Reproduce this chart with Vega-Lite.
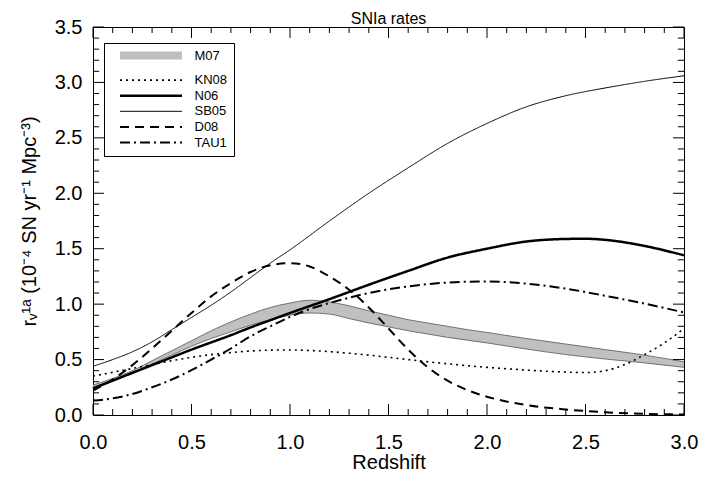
{
 "$schema": "https://vega.github.io/schema/vega-lite/v6.json",
 "width": 591, "height": 388,
 "autosize": {"type": "none"},
 "padding": {"left": 93, "top": 27, "right": 36, "bottom": 62},
 "background": "white",
 "title": {"text": "SNIa rates", "fontSize": 16, "font": "Liberation Sans", "fontWeight": "normal", "color": "black", "offset": -10, "frame": "group", "anchor": "middle"},
 "datasets": {
  "m07": [
   {"z": 0.0, "lo": 0.25, "hi": 0.27}, {"z": 0.1, "lo": 0.31, "hi": 0.33}, {"z": 0.2, "lo": 0.38, "hi": 0.40},
   {"z": 0.3, "lo": 0.46, "hi": 0.49}, {"z": 0.4, "lo": 0.54, "hi": 0.58}, {"z": 0.5, "lo": 0.62, "hi": 0.67},
   {"z": 0.6, "lo": 0.69, "hi": 0.76}, {"z": 0.7, "lo": 0.75, "hi": 0.84}, {"z": 0.8, "lo": 0.81, "hi": 0.91},
   {"z": 0.9, "lo": 0.86, "hi": 0.97}, {"z": 1.0, "lo": 0.90, "hi": 1.01}, {"z": 1.1, "lo": 0.92, "hi": 1.035},
   {"z": 1.2, "lo": 0.91, "hi": 1.02}, {"z": 1.3, "lo": 0.87, "hi": 0.985}, {"z": 1.4, "lo": 0.83, "hi": 0.94},
   {"z": 1.5, "lo": 0.795, "hi": 0.90}, {"z": 1.6, "lo": 0.76, "hi": 0.86}, {"z": 1.7, "lo": 0.73, "hi": 0.83},
   {"z": 1.8, "lo": 0.70, "hi": 0.80}, {"z": 1.9, "lo": 0.675, "hi": 0.77}, {"z": 2.0, "lo": 0.65, "hi": 0.745},
   {"z": 2.2, "lo": 0.595, "hi": 0.69}, {"z": 2.4, "lo": 0.545, "hi": 0.64}, {"z": 2.6, "lo": 0.505, "hi": 0.59},
   {"z": 2.8, "lo": 0.47, "hi": 0.54}, {"z": 3.0, "lo": 0.43, "hi": 0.48}
  ],
  "xticks": [
   {"v": 0.0, "kind": "major"}, {"v": 0.1, "kind": "minor"}, {"v": 0.2, "kind": "minor"}, {"v": 0.3, "kind": "minor"}, {"v": 0.4, "kind": "minor"},
   {"v": 0.5, "kind": "major"}, {"v": 0.6, "kind": "minor"}, {"v": 0.7, "kind": "minor"}, {"v": 0.8, "kind": "minor"}, {"v": 0.9, "kind": "minor"},
   {"v": 1.0, "kind": "major"}, {"v": 1.1, "kind": "minor"}, {"v": 1.2, "kind": "minor"}, {"v": 1.3, "kind": "minor"}, {"v": 1.4, "kind": "minor"},
   {"v": 1.5, "kind": "major"}, {"v": 1.6, "kind": "minor"}, {"v": 1.7, "kind": "minor"}, {"v": 1.8, "kind": "minor"}, {"v": 1.9, "kind": "minor"},
   {"v": 2.0, "kind": "major"}, {"v": 2.1, "kind": "minor"}, {"v": 2.2, "kind": "minor"}, {"v": 2.3, "kind": "minor"}, {"v": 2.4, "kind": "minor"},
   {"v": 2.5, "kind": "major"}, {"v": 2.6, "kind": "minor"}, {"v": 2.7, "kind": "minor"}, {"v": 2.8, "kind": "minor"}, {"v": 2.9, "kind": "minor"},
   {"v": 3.0, "kind": "major"}
  ],
  "yticks": [
   {"v": 0.0, "kind": "major"}, {"v": 0.1, "kind": "minor"}, {"v": 0.2, "kind": "minor"}, {"v": 0.3, "kind": "minor"}, {"v": 0.4, "kind": "minor"},
   {"v": 0.5, "kind": "major"}, {"v": 0.6, "kind": "minor"}, {"v": 0.7, "kind": "minor"}, {"v": 0.8, "kind": "minor"}, {"v": 0.9, "kind": "minor"},
   {"v": 1.0, "kind": "major"}, {"v": 1.1, "kind": "minor"}, {"v": 1.2, "kind": "minor"}, {"v": 1.3, "kind": "minor"}, {"v": 1.4, "kind": "minor"},
   {"v": 1.5, "kind": "major"}, {"v": 1.6, "kind": "minor"}, {"v": 1.7, "kind": "minor"}, {"v": 1.8, "kind": "minor"}, {"v": 1.9, "kind": "minor"},
   {"v": 2.0, "kind": "major"}, {"v": 2.1, "kind": "minor"}, {"v": 2.2, "kind": "minor"}, {"v": 2.3, "kind": "minor"}, {"v": 2.4, "kind": "minor"},
   {"v": 2.5, "kind": "major"}, {"v": 2.6, "kind": "minor"}, {"v": 2.7, "kind": "minor"}, {"v": 2.8, "kind": "minor"}, {"v": 2.9, "kind": "minor"},
   {"v": 3.0, "kind": "major"}, {"v": 3.1, "kind": "minor"}, {"v": 3.2, "kind": "minor"}, {"v": 3.3, "kind": "minor"}, {"v": 3.4, "kind": "minor"},
   {"v": 3.5, "kind": "major"}
  ],
  "lines": [
   {"model": "KN08", "z": 0.0, "r": 0.35}, {"model": "KN08", "z": 0.1, "r": 0.385}, {"model": "KN08", "z": 0.2, "r": 0.42},
   {"model": "KN08", "z": 0.3, "r": 0.455}, {"model": "KN08", "z": 0.4, "r": 0.49}, {"model": "KN08", "z": 0.5, "r": 0.52},
   {"model": "KN08", "z": 0.6, "r": 0.545}, {"model": "KN08", "z": 0.7, "r": 0.563}, {"model": "KN08", "z": 0.8, "r": 0.577},
   {"model": "KN08", "z": 0.9, "r": 0.585}, {"model": "KN08", "z": 1.0, "r": 0.587}, {"model": "KN08", "z": 1.1, "r": 0.582},
   {"model": "KN08", "z": 1.2, "r": 0.572}, {"model": "KN08", "z": 1.3, "r": 0.557}, {"model": "KN08", "z": 1.4, "r": 0.54},
   {"model": "KN08", "z": 1.5, "r": 0.52}, {"model": "KN08", "z": 1.6, "r": 0.50}, {"model": "KN08", "z": 1.7, "r": 0.48},
   {"model": "KN08", "z": 1.8, "r": 0.462}, {"model": "KN08", "z": 1.9, "r": 0.445}, {"model": "KN08", "z": 2.0, "r": 0.43},
   {"model": "KN08", "z": 2.1, "r": 0.417}, {"model": "KN08", "z": 2.2, "r": 0.405}, {"model": "KN08", "z": 2.3, "r": 0.395},
   {"model": "KN08", "z": 2.4, "r": 0.387}, {"model": "KN08", "z": 2.5, "r": 0.383}, {"model": "KN08", "z": 2.6, "r": 0.40},
   {"model": "KN08", "z": 2.7, "r": 0.455}, {"model": "KN08", "z": 2.8, "r": 0.545}, {"model": "KN08", "z": 2.9, "r": 0.65},
   {"model": "KN08", "z": 3.0, "r": 0.78},
   {"model": "N06", "z": 0.0, "r": 0.24}, {"model": "N06", "z": 0.1, "r": 0.31}, {"model": "N06", "z": 0.2, "r": 0.38},
   {"model": "N06", "z": 0.3, "r": 0.45}, {"model": "N06", "z": 0.4, "r": 0.52}, {"model": "N06", "z": 0.5, "r": 0.59},
   {"model": "N06", "z": 0.6, "r": 0.655}, {"model": "N06", "z": 0.7, "r": 0.72}, {"model": "N06", "z": 0.8, "r": 0.79},
   {"model": "N06", "z": 0.9, "r": 0.855}, {"model": "N06", "z": 1.0, "r": 0.92}, {"model": "N06", "z": 1.2, "r": 1.045},
   {"model": "N06", "z": 1.4, "r": 1.175}, {"model": "N06", "z": 1.6, "r": 1.30}, {"model": "N06", "z": 1.8, "r": 1.42},
   {"model": "N06", "z": 2.0, "r": 1.50}, {"model": "N06", "z": 2.2, "r": 1.565}, {"model": "N06", "z": 2.4, "r": 1.588},
   {"model": "N06", "z": 2.5, "r": 1.59}, {"model": "N06", "z": 2.6, "r": 1.58}, {"model": "N06", "z": 2.8, "r": 1.525},
   {"model": "N06", "z": 3.0, "r": 1.44},
   {"model": "SB05", "z": 0.0, "r": 0.44}, {"model": "SB05", "z": 0.1, "r": 0.50}, {"model": "SB05", "z": 0.2, "r": 0.57},
   {"model": "SB05", "z": 0.3, "r": 0.66}, {"model": "SB05", "z": 0.4, "r": 0.77}, {"model": "SB05", "z": 0.5, "r": 0.88},
   {"model": "SB05", "z": 0.6, "r": 0.99}, {"model": "SB05", "z": 0.7, "r": 1.11}, {"model": "SB05", "z": 0.8, "r": 1.24},
   {"model": "SB05", "z": 0.9, "r": 1.37}, {"model": "SB05", "z": 1.0, "r": 1.49}, {"model": "SB05", "z": 1.2, "r": 1.75},
   {"model": "SB05", "z": 1.4, "r": 2.00}, {"model": "SB05", "z": 1.6, "r": 2.23}, {"model": "SB05", "z": 1.8, "r": 2.45},
   {"model": "SB05", "z": 2.0, "r": 2.63}, {"model": "SB05", "z": 2.2, "r": 2.78}, {"model": "SB05", "z": 2.4, "r": 2.88},
   {"model": "SB05", "z": 2.6, "r": 2.95}, {"model": "SB05", "z": 2.8, "r": 3.01}, {"model": "SB05", "z": 3.0, "r": 3.06},
   {"model": "D08", "z": 0.0, "r": 0.22}, {"model": "D08", "z": 0.1, "r": 0.32}, {"model": "D08", "z": 0.2, "r": 0.45},
   {"model": "D08", "z": 0.3, "r": 0.60}, {"model": "D08", "z": 0.4, "r": 0.76}, {"model": "D08", "z": 0.5, "r": 0.92},
   {"model": "D08", "z": 0.6, "r": 1.07}, {"model": "D08", "z": 0.7, "r": 1.19}, {"model": "D08", "z": 0.8, "r": 1.29},
   {"model": "D08", "z": 0.9, "r": 1.35}, {"model": "D08", "z": 1.0, "r": 1.37}, {"model": "D08", "z": 1.1, "r": 1.34},
   {"model": "D08", "z": 1.2, "r": 1.25}, {"model": "D08", "z": 1.3, "r": 1.13}, {"model": "D08", "z": 1.4, "r": 0.97},
   {"model": "D08", "z": 1.5, "r": 0.78}, {"model": "D08", "z": 1.6, "r": 0.59}, {"model": "D08", "z": 1.7, "r": 0.43},
   {"model": "D08", "z": 1.8, "r": 0.31}, {"model": "D08", "z": 1.9, "r": 0.225}, {"model": "D08", "z": 2.0, "r": 0.165},
   {"model": "D08", "z": 2.2, "r": 0.09}, {"model": "D08", "z": 2.4, "r": 0.05}, {"model": "D08", "z": 2.6, "r": 0.025},
   {"model": "D08", "z": 2.8, "r": 0.01}, {"model": "D08", "z": 3.0, "r": 0.005},
   {"model": "TAU1", "z": 0.0, "r": 0.13}, {"model": "TAU1", "z": 0.1, "r": 0.15}, {"model": "TAU1", "z": 0.2, "r": 0.19},
   {"model": "TAU1", "z": 0.3, "r": 0.25}, {"model": "TAU1", "z": 0.4, "r": 0.32}, {"model": "TAU1", "z": 0.5, "r": 0.405},
   {"model": "TAU1", "z": 0.6, "r": 0.50}, {"model": "TAU1", "z": 0.7, "r": 0.60}, {"model": "TAU1", "z": 0.8, "r": 0.71},
   {"model": "TAU1", "z": 0.9, "r": 0.80}, {"model": "TAU1", "z": 1.0, "r": 0.885}, {"model": "TAU1", "z": 1.1, "r": 0.955},
   {"model": "TAU1", "z": 1.2, "r": 1.01}, {"model": "TAU1", "z": 1.4, "r": 1.10}, {"model": "TAU1", "z": 1.6, "r": 1.16},
   {"model": "TAU1", "z": 1.8, "r": 1.195}, {"model": "TAU1", "z": 2.0, "r": 1.205}, {"model": "TAU1", "z": 2.2, "r": 1.185},
   {"model": "TAU1", "z": 2.4, "r": 1.14}, {"model": "TAU1", "z": 2.6, "r": 1.075}, {"model": "TAU1", "z": 2.8, "r": 1.005},
   {"model": "TAU1", "z": 3.0, "r": 0.925}
  ]
 },
 "config": {
  "font": "Liberation Sans",
  "view": {"stroke": "black", "strokeWidth": 1},
  "axis": {
   "domainColor": "black", "labelColor": "black", "titleColor": "black",
   "labelFont": "Liberation Sans", "titleFont": "Liberation Sans", "labelFontSize": 20, "titleFontSize": 20,
   "titleFontWeight": "normal", "labelFlush": false, "labelOverlap": false, "grid": false
  },
  "legend": {
   "orient": "none", "legendX": 11, "legendY": 16, "strokeColor": "black", "fillColor": "white",
   "padding": 6, "cornerRadius": 0, "symbolType": "M-20,0H20", "symbolSize": 9.6, "symbolOffset": 34.5,
   "labelFont": "Liberation Sans", "labelFontSize": 13, "labelColor": "black", "labelOffset": 37, "rowPadding": 1.6, "title": null
  }
 },
 "resolve": {"axis": {"x": "independent", "y": "independent"}},
 "layer": [
  {
   "data": {"name": "m07"},
   "mark": {"type": "area", "color": "#c0c0c0", "interpolate": "monotone"},
   "encoding": {
    "x": {"field": "z", "type": "quantitative", "scale": {"domain": [0, 3], "nice": false},
     "axis": {"orient": "bottom", "title": "Redshift", "titlePadding": 0, "ticks": false, "tickSize": 0, "domain": false,
      "values": [0, 0.5, 1, 1.5, 2, 2.5, 3], "format": ".1f", "labelPadding": 17}},
    "y": {"field": "lo", "type": "quantitative", "scale": {"domain": [0, 3.5], "nice": false},
     "axis": {"orient": "left", "title": "rᵥ¹ᵃ  (10⁻⁴ SN yr⁻¹ Mpc⁻³)", "titlePadding": 15, "ticks": false, "tickSize": 0, "domain": false,
      "values": [0, 0.5, 1, 1.5, 2, 2.5, 3, 3.5], "format": ".1f", "labelPadding": 11}},
    "y2": {"field": "hi"}
   }
  },
  {
   "data": {"name": "m07"},
   "transform": [{"fold": ["lo", "hi"], "as": ["edge", "val"]}],
   "mark": {"type": "line", "color": "#555555", "strokeWidth": 0.8, "interpolate": "monotone"},
   "encoding": {
    "x": {"field": "z", "type": "quantitative", "axis": null},
    "y": {"field": "val", "type": "quantitative", "axis": null},
    "detail": {"field": "edge"}
   }
  },
  {
   "data": {"name": "lines"},
   "mark": {"type": "line", "interpolate": "monotone"},
   "encoding": {
    "x": {"field": "z", "type": "quantitative", "axis": null},
    "y": {"field": "r", "type": "quantitative", "axis": null},
    "color": {"field": "model", "type": "nominal",
     "scale": {"domain": ["M07", "KN08", "N06", "SB05", "D08", "TAU1"], "range": ["#bebebe", "black", "black", "black", "black", "black"]}},
    "strokeDash": {"field": "model", "type": "nominal",
     "scale": {"domain": ["M07", "KN08", "N06", "SB05", "D08", "TAU1"], "range": [[1, 0], [2, 4], [1, 0], [1, 0], [9, 6], [10, 4, 2, 4]]}},
    "strokeWidth": {"field": "model", "type": "nominal",
     "scale": {"type": "ordinal", "domain": ["M07", "KN08", "N06", "SB05", "D08", "TAU1"], "range": [8, 1.6, 2.5, 1, 2, 2]}}
   }
  },
  {
   "data": {"name": "xticks"},
   "transform": [{"filter": {"field": "kind", "equal": "major"}}],
   "mark": {"type": "rule", "color": "black", "strokeWidth": 1},
   "encoding": {
    "x": {"field": "v", "type": "quantitative", "axis": null},
    "y": {"datum": 0, "type": "quantitative", "axis": null},
    "y2": {"datum": 0.099}
   }
  },
  {
   "data": {"name": "xticks"},
   "transform": [{"filter": {"field": "kind", "equal": "minor"}}],
   "mark": {"type": "rule", "color": "black", "strokeWidth": 1},
   "encoding": {
    "x": {"field": "v", "type": "quantitative", "axis": null},
    "y": {"datum": 0, "type": "quantitative", "axis": null},
    "y2": {"datum": 0.054}
   }
  },
  {
   "data": {"name": "xticks"},
   "transform": [{"filter": {"field": "kind", "equal": "major"}}],
   "mark": {"type": "rule", "color": "black", "strokeWidth": 1},
   "encoding": {
    "x": {"field": "v", "type": "quantitative", "axis": null},
    "y": {"datum": 3.5, "type": "quantitative", "axis": null},
    "y2": {"datum": 3.401}
   }
  },
  {
   "data": {"name": "xticks"},
   "transform": [{"filter": {"field": "kind", "equal": "minor"}}],
   "mark": {"type": "rule", "color": "black", "strokeWidth": 1},
   "encoding": {
    "x": {"field": "v", "type": "quantitative", "axis": null},
    "y": {"datum": 3.5, "type": "quantitative", "axis": null},
    "y2": {"datum": 3.446}
   }
  },
  {
   "data": {"name": "yticks"},
   "transform": [{"filter": {"field": "kind", "equal": "major"}}],
   "mark": {"type": "rule", "color": "black", "strokeWidth": 1},
   "encoding": {
    "y": {"field": "v", "type": "quantitative", "axis": null},
    "x": {"datum": 0, "type": "quantitative", "axis": null},
    "x2": {"datum": 0.056}
   }
  },
  {
   "data": {"name": "yticks"},
   "transform": [{"filter": {"field": "kind", "equal": "minor"}}],
   "mark": {"type": "rule", "color": "black", "strokeWidth": 1},
   "encoding": {
    "y": {"field": "v", "type": "quantitative", "axis": null},
    "x": {"datum": 0, "type": "quantitative", "axis": null},
    "x2": {"datum": 0.031}
   }
  },
  {
   "data": {"name": "yticks"},
   "transform": [{"filter": {"field": "kind", "equal": "major"}}],
   "mark": {"type": "rule", "color": "black", "strokeWidth": 1},
   "encoding": {
    "y": {"field": "v", "type": "quantitative", "axis": null},
    "x": {"datum": 3, "type": "quantitative", "axis": null},
    "x2": {"datum": 2.944}
   }
  },
  {
   "data": {"name": "yticks"},
   "transform": [{"filter": {"field": "kind", "equal": "minor"}}],
   "mark": {"type": "rule", "color": "black", "strokeWidth": 1},
   "encoding": {
    "y": {"field": "v", "type": "quantitative", "axis": null},
    "x": {"datum": 3, "type": "quantitative", "axis": null},
    "x2": {"datum": 2.969}
   }
  }
 ]
}
